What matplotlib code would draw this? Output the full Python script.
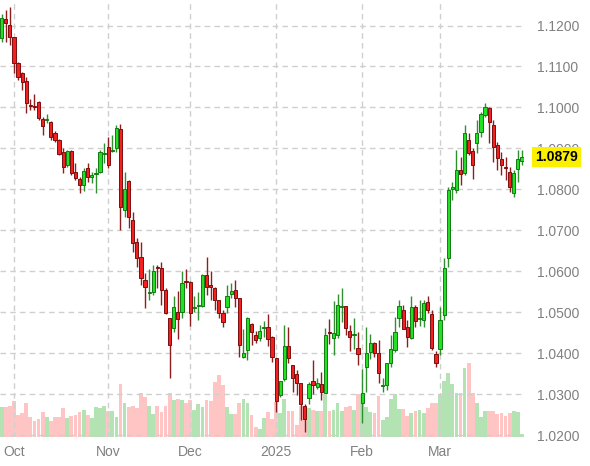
import numpy as np
import pandas as pd
import matplotlib
matplotlib.use("Agg")
import matplotlib.pyplot as plt

plt.rcParams['font.family'] = ['Liberation Sans', 'DejaVu Sans']

# ---- data -------------------------------------------------------------
holidays = ["2024-11-28", "2024-12-25", "2025-01-01", "2025-01-20", "2025-02-17"]
dates = pd.bdate_range("2024-09-26", "2025-03-31")
dates = dates[~dates.isin(pd.to_datetime(holidays))]

open_ = [1.1169, 1.1215, 1.1201, 1.1171, 1.1108, 1.1085, 1.1065, 1.1006, 1.1004, 1.1014,
         1.0972, 1.0970, 1.0965, 1.0939, 1.0921, 1.0892, 1.0860, 1.0895, 1.0842, 1.0826,
         1.0811, 1.0852, 1.0831, 1.0838, 1.0843, 1.0887, 1.0904, 1.0895, 1.0900, 1.0948,
         1.0750, 1.0821, 1.0726, 1.0673, 1.0636, 1.0579, 1.0548, 1.0551, 1.0612, 1.0608,
         1.0555, 1.0486, 1.0461, 1.0502, 1.0500, 1.0578, 1.0575, 1.0510, 1.0517, 1.0517,
         1.0591, 1.0566, 1.0559, 1.0530, 1.0498, 1.0514, 1.0545, 1.0555, 1.0535, 1.0392,
         1.0409, 1.0472, 1.0445, 1.0437, 1.0463, 1.0465, 1.0441, 1.0388, 1.0298, 1.0338,
         1.0418, 1.0373, 1.0349, 1.0329, 1.0271, 1.0291, 1.0334, 1.0319, 1.0325, 1.0304,
         1.0453, 1.0437, 1.0445, 1.0513, 1.0515, 1.0454, 1.0446, 1.0413, 1.0280, 1.0368,
         1.0404, 1.0425, 1.0402, 1.0321, 1.0323, 1.0376, 1.0409, 1.0486, 1.0506, 1.0465,
         1.0437, 1.0513, 1.0484, 1.0482, 1.0526, 1.0496, 1.0398, 1.0412, 1.0494, 1.0632,
         1.0800, 1.0799, 1.0848, 1.0841, 1.0921, 1.0895, 1.0913, 1.0941, 1.0982, 1.0998,
         1.0957, 1.0909, 1.0874, 1.0856, 1.0843, 1.0792, 1.0849, 1.0870]
high = [1.1228, 1.1238, 1.1244, 1.1172, 1.1111, 1.1087, 1.1074, 1.1021, 1.1032, 1.1016,
        1.0977, 1.0984, 1.0967, 1.0943, 1.0923, 1.0900, 1.0896, 1.0896, 1.0864, 1.0831,
        1.0852, 1.0865, 1.0843, 1.0852, 1.0896, 1.0913, 1.0929, 1.0933, 1.0957, 1.0959,
        1.0842, 1.0823, 1.0744, 1.0681, 1.0673, 1.0596, 1.0606, 1.0616, 1.0616, 1.0624,
        1.0560, 1.0487, 1.0539, 1.0552, 1.0600, 1.0605, 1.0577, 1.0539, 1.0551, 1.0595,
        1.0635, 1.0600, 1.0562, 1.0530, 1.0506, 1.0567, 1.0571, 1.0579, 1.0535, 1.0460,
        1.0490, 1.0474, 1.0455, 1.0469, 1.0480, 1.0496, 1.0443, 1.0388, 1.0333, 1.0469,
        1.0465, 1.0373, 1.0360, 1.0329, 1.0278, 1.0330, 1.0383, 1.0340, 1.0356, 1.0461,
        1.0483, 1.0528, 1.0546, 1.0559, 1.0515, 1.0469, 1.0486, 1.0453, 1.0363, 1.0465,
        1.0448, 1.0429, 1.0433, 1.0340, 1.0376, 1.0445, 1.0490, 1.0530, 1.0518, 1.0482,
        1.0539, 1.0518, 1.0530, 1.0530, 1.0539, 1.0506, 1.0407, 1.0513, 1.0632, 1.0807,
        1.0819, 1.0896, 1.0880, 1.0957, 1.0937, 1.0900, 1.0970, 1.0990, 1.1012, 1.1002,
        1.0970, 1.0917, 1.0892, 1.0880, 1.0856, 1.0848, 1.0896, 1.0896]
low = [1.1160, 1.1160, 1.1152, 1.1083, 1.1067, 1.1043, 1.0986, 1.0994, 1.0994, 1.0970,
       1.0933, 1.0961, 1.0921, 1.0917, 1.0884, 1.0840, 1.0856, 1.0835, 1.0823, 1.0791,
       1.0797, 1.0819, 1.0815, 1.0792, 1.0840, 1.0864, 1.0852, 1.0892, 1.0892, 1.0701,
       1.0734, 1.0707, 1.0648, 1.0612, 1.0567, 1.0510, 1.0530, 1.0543, 1.0559, 1.0518,
       1.0497, 1.0340, 1.0453, 1.0435, 1.0486, 1.0560, 1.0468, 1.0502, 1.0482, 1.0514,
       1.0543, 1.0530, 1.0506, 1.0486, 1.0465, 1.0498, 1.0535, 1.0513, 1.0392, 1.0388,
       1.0384, 1.0421, 1.0426, 1.0431, 1.0440, 1.0418, 1.0379, 1.0258, 1.0295, 1.0333,
       1.0376, 1.0305, 1.0299, 1.0238, 1.0209, 1.0278, 1.0300, 1.0313, 1.0287, 1.0303,
       1.0423, 1.0396, 1.0438, 1.0478, 1.0445, 1.0407, 1.0411, 1.0372, 1.0231, 1.0306,
       1.0387, 1.0391, 1.0327, 1.0307, 1.0311, 1.0368, 1.0404, 1.0465, 1.0460, 1.0417,
       1.0435, 1.0464, 1.0467, 1.0465, 1.0498, 1.0409, 1.0368, 1.0396, 1.0482, 1.0612,
       1.0774, 1.0792, 1.0811, 1.0835, 1.0884, 1.0825, 1.0890, 1.0929, 1.0978, 1.0913,
       1.0868, 1.0848, 1.0835, 1.0823, 1.0795, 1.0782, 1.0819, 1.0860]
close = [1.1218, 1.1205, 1.1173, 1.1109, 1.1075, 1.1063, 1.1010, 1.1004, 1.1000, 1.0974,
         1.0956, 1.0973, 1.0929, 1.0921, 1.0887, 1.0856, 1.0894, 1.0840, 1.0829, 1.0811,
         1.0846, 1.0831, 1.0836, 1.0840, 1.0892, 1.0890, 1.0860, 1.0896, 1.0951, 1.0757,
         1.0801, 1.0734, 1.0669, 1.0632, 1.0583, 1.0563, 1.0550, 1.0601, 1.0608, 1.0555,
         1.0498, 1.0421, 1.0514, 1.0484, 1.0571, 1.0574, 1.0498, 1.0513, 1.0519, 1.0591,
         1.0561, 1.0562, 1.0530, 1.0498, 1.0478, 1.0539, 1.0553, 1.0535, 1.0421, 1.0402,
         1.0487, 1.0453, 1.0432, 1.0456, 1.0465, 1.0435, 1.0391, 1.0285, 1.0333, 1.0418,
         1.0388, 1.0341, 1.0329, 1.0276, 1.0239, 1.0325, 1.0324, 1.0329, 1.0305, 1.0445,
         1.0449, 1.0449, 1.0518, 1.0515, 1.0461, 1.0441, 1.0448, 1.0398, 1.0303, 1.0402,
         1.0425, 1.0402, 1.0352, 1.0323, 1.0376, 1.0410, 1.0453, 1.0516, 1.0460, 1.0441,
         1.0513, 1.0480, 1.0487, 1.0522, 1.0506, 1.0414, 1.0378, 1.0482, 1.0608, 1.0799,
         1.0806, 1.0848, 1.0838, 1.0937, 1.0888, 1.0860, 1.0937, 1.0984, 1.1002, 1.0965,
         1.0903, 1.0876, 1.0860, 1.0852, 1.0805, 1.0841, 1.0874, 1.0879]
volume = [30, 30, 31, 36, 22, 24, 34, 20, 16, 18, 25, 20, 16, 20, 20, 29, 19, 21, 22, 25,
          27, 22, 19, 30, 29, 31, 26, 26, 20, 53, 34, 30, 31, 29, 44, 40, 31, 23, 31, 25,
          31, 44, 37, 38, 37, 34, 37, 27, 33, 30, 37, 36, 55, 62, 52, 30, 23, 23, 34, 38,
          34, 22, 10, 8, 19, 25, 18, 35, 24, 38, 26, 26, 12, 31, 20, 29, 27, 26, 26, 43,
          26, 27, 34, 26, 30, 31, 27, 43, 43, 30, 25, 24, 41, 17, 20, 38, 43, 28, 28, 21,
          24, 26, 27, 24, 29, 34, 34, 43, 56, 64, 53, 44, 44, 69, 74, 44, 34, 20, 26, 26,
          26, 23, 24, 21, 24, 26, 25, 3]

price_ticks = [1.02, 1.03, 1.04, 1.05, 1.06, 1.07, 1.08, 1.09, 1.10, 1.11, 1.12]
month_names = {10: "Oct", 11: "Nov", 12: "Dec", 1: "2025", 2: "Feb", 3: "Mar"}

# ---- figure -----------------------------------------------------------
W, H = 590, 466
fig = plt.figure(figsize=(W / 100, H / 100), dpi=100)
ax = fig.add_axes([0, 29 / H, 524 / W, 437 / H])
axv = ax.twinx()
ax.set_zorder(axv.get_zorder() + 1)
ax.patch.set_visible(False)

n = len(close)
x = np.arange(n)
o = np.array(open_); c = np.array(close); h = np.array(high); l = np.array(low)
up = c >= o

# volume
vcol = np.where(up, '#b3e3b3', '#ffc4c4')
axv.bar(x, volume, width=0.92, color=vcol, edgecolor='none', zorder=1)
axv.set_ylim(0, 437)
axv.set_yticks([])
for s in axv.spines.values():
    s.set_visible(False)

# grid
month_starts = [i for i in range(1, n) if dates[i].month != dates[i - 1].month]
for i in month_starts:
    ax.axvline(i, color='#cfcfcf', lw=1.0, ls=(0, (4, 3)), zorder=1)
for p in price_ticks:
    ax.axhline(p, color='#cfcfcf', lw=1.0, ls=(0, (4, 3)), zorder=1)

# candles
wick_col = np.where(up, '#2f8f2f', '#8e1e1e')
ax.vlines(x, l, h, colors=wick_col, lw=1.0, zorder=3)
body_bot = np.minimum(o, c)
body_h = np.maximum(np.abs(c - o), 0.00012)
ax.bar(x[up], body_h[up], bottom=body_bot[up], width=0.78,
       color='#22e022', edgecolor='#137a13', linewidth=0.7, zorder=4)
ax.bar(x[~up], body_h[~up], bottom=body_bot[~up], width=0.78,
       color='#f42020', edgecolor='#7a0e0e', linewidth=0.7, zorder=4)

ax.set_xlim(-0.415, 127.5)
ax.set_ylim(1.01963, 1.12622)

ax.yaxis.tick_right()
ax.set_yticks(price_ticks)
ax.set_yticklabels([f"{p:.4f}" for p in price_ticks])
ax.tick_params(axis='y', length=0, pad=9, labelsize=10, labelcolor='#808080')
ax.set_xticks(month_starts)
ax.set_xticklabels([month_names[dates[i].month] for i in month_starts])
ax.tick_params(axis='x', length=0, pad=6, labelsize=10, labelcolor='#808080')
for s in ax.spines.values():
    s.set_visible(False)

# last price tag
ax.annotate(f"{close[-1]:.4f}", xy=(1, close[-1]), xycoords=('axes fraction', 'data'),
            xytext=(11, 0), textcoords='offset pixels', ha='left', va='center',
            fontsize=10, fontweight='bold', color='black', zorder=10,
            bbox=dict(boxstyle='square,pad=0.2', fc='#fbf000', ec='none'),
            annotation_clip=False)

fig.savefig("out.png", dpi=100, facecolor='white')
